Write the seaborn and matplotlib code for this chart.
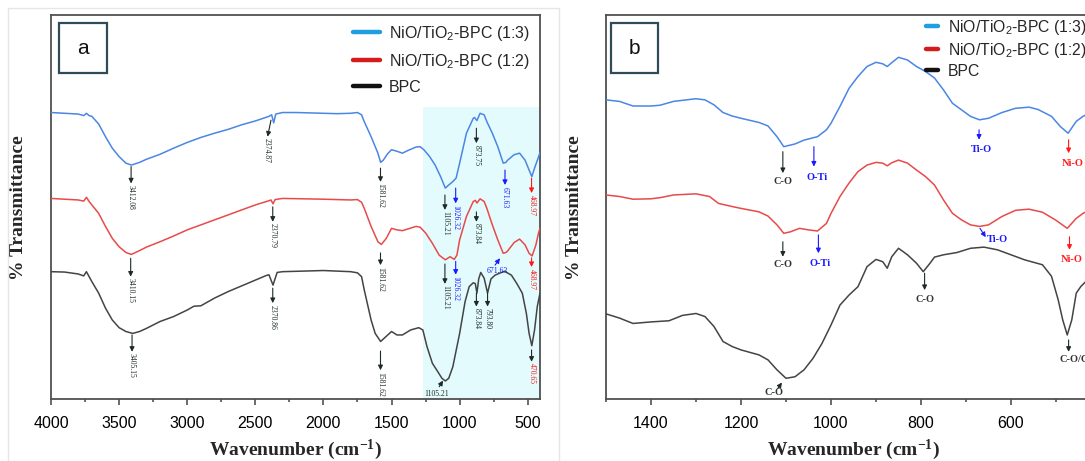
import pandas as pd
import seaborn as sns
import matplotlib
matplotlib.use('Agg')
import matplotlib.pyplot as plt
from matplotlib import ticker
from matplotlib.lines import Line2D
from matplotlib.patches import Rectangle

# ---------------- data (panel a, full range) ----------------
wn_a_13 = [4000, 3900, 3800, 3760, 3740, 3720, 3700, 3650, 3600, 3550, 3500, 3450, 3410, 3350, 3300,
           3200, 3100, 3000, 2900, 2800, 2700, 2600, 2500, 2400, 2380, 2365, 2350, 2300, 2200, 2100,
           2000, 1900, 1800, 1750, 1720, 1700, 1650, 1600, 1580, 1560, 1530, 1500, 1460, 1420, 1380,
           1320, 1290, 1260, 1220, 1180, 1140, 1105, 1080, 1050, 1026, 1000, 950, 900, 890, 873, 850,
           820, 800, 760, 720, 680, 660, 650, 600, 560, 520, 490, 470, 450, 420, 410]
t_a_13 = [74.7, 74.5, 74.3, 73.9, 74.5, 73.9, 73.7, 71.7, 68.4, 65.4, 63.2, 61.5, 61.0, 61.7, 62.5,
          63.8, 65.4, 66.9, 68.2, 69.3, 70.3, 71.5, 72.5, 73.7, 74.1, 72.0, 74.3, 74.7, 74.7, 74.6,
          74.5, 74.4, 74.5, 74.7, 74.1, 72.3, 68.4, 64.1, 61.7, 62.3, 63.9, 65.0, 64.6, 64.1, 64.8,
          65.7, 65.8, 64.9, 63.2, 61.0, 58.0, 55.0, 55.8, 56.7, 57.6, 61.5, 69.3, 73.2, 73.4, 72.6, 74.5,
          74.1, 72.3, 69.3, 65.8, 61.5, 61.7, 62.2, 63.7, 64.1, 62.3, 59.7, 58.0, 60.2, 63.2, 64.3]

wn_a_12 = [4000, 3900, 3800, 3760, 3740, 3720, 3700, 3650, 3600, 3550, 3500, 3450, 3410, 3350, 3300,
           3200, 3100, 3000, 2900, 2800, 2700, 2600, 2500, 2400, 2385, 2370, 2355, 2300, 2000, 1800,
           1750, 1720, 1700, 1650, 1600, 1575, 1540, 1500, 1460, 1420, 1320, 1290, 1250, 1200, 1150,
           1105, 1070, 1040, 1020, 1000, 950, 900, 885, 873, 850, 820, 800, 760, 720, 680, 660, 650,
           600, 560, 520, 490, 468, 440, 420, 410]
t_a_12 = [52.3, 52.1, 51.9, 51.6, 52.6, 51.5, 50.6, 48.4, 45.0, 41.9, 39.7, 38.2, 37.7, 38.7, 39.6,
          41.0, 42.5, 44.1, 45.4, 46.7, 48.0, 49.3, 50.6, 51.7, 51.9, 50.9, 52.0, 52.3, 52.1, 51.9,
          52.0, 51.3, 49.7, 45.0, 41.0, 40.3, 41.8, 44.5, 44.1, 43.9, 45.0, 44.8, 43.3, 40.6, 37.5,
          36.3, 37.1, 36.4, 37.5, 41.5, 47.6, 51.5, 51.8, 51.1, 52.2, 51.5, 49.7, 45.4, 41.5, 38.0, 38.2, 38.5,
          40.8, 41.7, 40.2, 38.0, 37.3, 40.2, 43.4, 44.5]

wn_a_bpc = [4000, 3900, 3800, 3760, 3740, 3720, 3700, 3650, 3600, 3550, 3500, 3450, 3400, 3350, 3300,
            3200, 3100, 3000, 2950, 2900, 2800, 2700, 2600, 2500, 2420, 2400, 2370, 2350, 2340, 2300,
            2000, 1800, 1750, 1720, 1700, 1650, 1620, 1580, 1540, 1500, 1460, 1420, 1360, 1300, 1270,
            1240, 1200, 1160, 1130, 1105, 1080, 1050, 1000, 960, 930, 900, 885, 873, 860, 845, 820,
            795, 770, 740, 700, 670, 620, 580, 540, 510, 490, 470, 450, 430, 410]
t_a_bpc = [33.2, 33.1, 32.6, 32.1, 33.2, 31.9, 30.6, 27.6, 23.7, 20.6, 18.6, 17.6, 17.1, 17.6, 18.4,
           20.2, 21.5, 23.2, 24.2, 24.3, 26.3, 28.0, 29.5, 31.0, 32.2, 32.4, 29.7, 31.9, 33.0, 33.2,
           33.5, 33.2, 32.9, 31.9, 28.4, 20.6, 17.1, 15.0, 16.3, 17.6, 16.7, 16.7, 18.0, 18.6, 18.0,
           13.7, 9.3, 7.1, 5.4, 4.7, 5.4, 8.4, 17.1, 25.4, 29.3, 30.3, 30.1, 27.6, 31.3, 33.0, 31.5,
           27.6, 31.3, 32.3, 32.9, 33.3, 32.3, 30.1, 27.6, 22.3, 17.1, 13.9, 18.0, 24.1, 27.6]

# ---------------- data (panel b, 1500-400 region) ----------------
wn_b_13 = [1500, 1470, 1440, 1400, 1380, 1350, 1300, 1280, 1260, 1240, 1220, 1200, 1160, 1140, 1120,
           1105, 1080, 1060, 1030, 1010, 1000, 980, 960, 940, 920, 900, 885, 875, 865, 850, 830, 810,
           790, 770, 750, 730, 710, 690, 670, 650, 620, 590, 560, 540, 510, 490, 473, 455, 440, 430]
t_b_13 = [78.0, 77.6, 76.4, 76.4, 76.6, 77.6, 78.3, 78.0, 76.7, 74.7, 73.8, 73.2, 72.1, 71.2, 68.4,
          65.8, 66.5, 67.5, 68.4, 70.2, 71.9, 76.3, 81.0, 84.1, 86.7, 87.8, 87.4, 86.7, 87.7, 89.1, 88.4, 86.7,
          85.4, 83.7, 80.6, 77.1, 75.4, 73.7, 72.8, 73.2, 74.7, 75.8, 76.1, 75.5, 73.7, 71.0, 69.3, 72.4, 73.7, 74.3]

wn_b_12 = [1500, 1470, 1440, 1400, 1380, 1350, 1300, 1270, 1250, 1220, 1200, 1160, 1140, 1120, 1105,
           1090, 1070, 1050, 1030, 1010, 1000, 980, 960, 940, 920, 900, 885, 875, 865, 850, 830, 810,
           790, 770, 750, 730, 710, 690, 670, 650, 620, 590, 560, 530, 500, 475, 455, 440, 430]
t_b_12 = [53.2, 52.8, 52.1, 52.2, 52.5, 53.2, 53.5, 52.8, 51.0, 50.2, 49.7, 48.8, 47.7, 45.4, 43.2,
          43.6, 44.5, 44.1, 43.8, 45.8, 48.4, 52.8, 56.3, 59.3, 61.0, 61.7, 61.5, 60.8, 61.6, 62.3, 61.5, 59.7,
          58.0, 55.8, 51.9, 48.4, 46.7, 45.4, 45.0, 45.4, 47.6, 49.2, 49.5, 48.7, 46.6, 44.5, 47.1, 48.4, 49.0]

wn_b_bpc = [1500, 1470, 1440, 1400, 1360, 1330, 1300, 1280, 1260, 1240, 1220, 1200, 1160, 1140, 1120,
            1100, 1080, 1060, 1040, 1020, 1000, 980, 960, 940, 920, 900, 885, 875, 865, 850, 830, 810,
            795, 780, 770, 750, 720, 690, 660, 630, 600, 570, 530, 510, 495, 485, 475, 465, 455, 445, 435]
t_b_bpc = [22.2, 21.1, 19.7, 20.1, 20.4, 21.8, 22.3, 21.5, 18.9, 15.0, 13.7, 12.8, 11.5, 10.2, 7.6,
           5.4, 5.8, 7.6, 10.6, 14.5, 19.3, 24.5, 27.1, 29.3, 34.5, 36.4, 35.8, 34.1, 37.1, 39.3, 37.6, 35.4,
           33.2, 35.4, 37.0, 37.6, 38.2, 39.3, 39.6, 38.9, 37.6, 36.3, 35.0, 32.0, 25.8, 20.6, 16.7, 20.6, 27.6, 29.3, 30.5]

samples = ['NiO/TiO2-BPC (1:3)', 'NiO/TiO2-BPC (1:2)', 'BPC']
legend_labels = [r'NiO/TiO$\mathregular{_2}$-BPC (1:3)', r'NiO/TiO$\mathregular{_2}$-BPC (1:2)', 'BPC']
curve_colors = {samples[0]: '#4a86e4', samples[1]: '#e84a4a', samples[2]: '#444444'}
legend_colors = ['#1f9fe0', '#d41c1c', '#111111']

K, B, R = '#1e2a28', '#1a1aff', '#ff1a1a'

# peak labels panel a: label, wavenumber, arrow tail, arrow head, arrow colour, text colour
peaks_a = [('3412.08', 3412, 60.6, 56.2, K, K), ('1581.62', 1581, 60.2, 56.6, K, K),
           ('1105.21', 1108, 53.2, 49.3, K, K), ('1026.32', 1029, 55.0, 51.0, B, B),
           ('873.75', 877, 70.6, 66.7, K, K), ('671.63', 667, 59.7, 55.8, B, B),
           ('468.97', 472, 57.6, 53.7, R, R),
           ('3410.15', 3415, 36.7, 31.9, K, K), ('2370.79', 2372, 50.1, 46.2, K, K),
           ('1581.62', 1581, 38.1, 34.9, K, K), ('1105.21', 1108, 35.2, 30.0, K, K),
           ('1026.32', 1029, 35.9, 32.4, B, B), ('873.84', 877, 48.8, 46.2, K, K),
           ('468.97', 472, 36.8, 34.4, R, R),
           ('3405.15', 3405, 16.7, 12.3, K, K), ('2370.86', 2372, 28.9, 25.0, K, K),
           ('1581.62', 1581, 12.5, 7.5, K, K), ('873.84', 877, 27.6, 24.1, K, K),
           ('793.80', 795, 27.6, 24.1, K, K), ('470.65', 472, 12.8, 9.7, K, R)]

# panel b labels: label, tail, head, text position, arrow colour, text colour
peaks_b = [('C-O', (1107, 64.5), (1107, 58.9), (1107, 56.7), K, '#333333'),
           ('O-Ti', (1038, 65.8), (1038, 60.6), (1032, 57.7), B, B),
           ('Ti-O', (671, 70.2), (671, 67.6), (665, 65.0), B, B),
           ('Ni-O', (472, 67.6), (472, 64.1), (464, 61.5), R, R),
           ('C-O', (1107, 41.0), (1107, 37.1), (1107, 35.0), K, '#333333'),
           ('O-Ti', (1028, 42.8), (1028, 38.0), (1025, 35.4), B, B),
           ('Ti-O', (669, 44.5), (656, 42.2), (630, 41.5), B, B),
           ('Ni-O', (470, 42.3), (470, 38.9), (466, 36.4), R, R),
           ('C-O', (1118, 2.8), (1109, 4.3), (1126, 1.65), K, '#333333'),
           ('C-O', (792, 32.8), (792, 28.4), (790, 26.0), K, '#333333'),
           ('C-O/C=O', (472, 15.4), (472, 12.3), (444, 10.2), K, '#333333')]


def make_df(wns, ts):
    return pd.concat([pd.DataFrame({'wn': w, 'T': t, 'sample': s})
                      for w, t, s in zip(wns, ts, samples)], ignore_index=True)


df_a = make_df([wn_a_13, wn_a_12, wn_a_bpc], [t_a_13, t_a_12, t_a_bpc])
df_b = make_df([wn_b_13, wn_b_12, wn_b_bpc], [t_b_13, t_b_12, t_b_bpc])

sns.set_style('white')
plt.rcParams['font.family'] = ['Liberation Sans', 'DejaVu Sans']

fig = plt.figure(figsize=(10.85, 4.61), dpi=100)
ax_a = fig.add_axes([51 / 1085, 1 - 399 / 461, 489 / 1085, 383.5 / 461])
ax_b = fig.add_axes([606 / 1085, 1 - 399 / 461, 495 / 1085, 383.5 / 461])

# faint frame around panel a picture
fig.patches.append(Rectangle((8 / 1085, -0.1), 551 / 1085, 1.1 - 8 / 461, transform=fig.transFigure,
                             fill=False, ec='#e6e6e6', lw=1))

ax_a.axvspan(1270, 410, ymin=0, ymax=0.761, color='#e3fbfc', zorder=0, lw=0)

for ax, df, xlim, major, minor, letter, lx in [
        (ax_a, df_a, (4000, 410), 500, 250, 'a', (0.0164, 0.0982)),
        (ax_b, df_b, (1500, 400), 200, 100, 'b', (0.0095, 0.095))]:
    sns.lineplot(data=df, x='wn', y='T', hue='sample', palette=curve_colors, estimator=None,
                 lw=1.1, legend=False, ax=ax, zorder=3)
    ax.set_xlim(*xlim)
    ax.set_ylim(0, 100)
    ax.set_yticks([])
    ax.xaxis.set_major_locator(ticker.MultipleLocator(major))
    ax.xaxis.set_minor_locator(ticker.MultipleLocator(minor))
    ax.tick_params(axis='x', which='both', bottom=True, direction='out', colors='#444444',
                   labelcolor='black', width=1.1)
    ax.tick_params(axis='x', which='major', length=4, labelsize=11.5, pad=8)
    ax.tick_params(axis='x', which='minor', length=2.5)
    for sp in ax.spines.values():
        sp.set_visible(True)
        sp.set_color('#505050')
        sp.set_linewidth(1.3)
    ax.set_ylabel('% Transmittance', fontfamily='Liberation Serif', fontweight='bold', fontsize=14)
    ax.set_xlabel(r'Wavenumber (cm$\mathregular{^{-1}}$)', fontfamily='Liberation Serif',
                  fontweight='bold', fontsize=14)
    ax.xaxis.set_label_coords(0.5, -0.102)
    ax.add_patch(Rectangle((lx[0], 0.850), lx[1], 0.130, transform=ax.transAxes, fill=False,
                           ec='#2f4b57', lw=1.6, zorder=5))
    ax.text(lx[0] + lx[1] / 2, 0.915, letter, transform=ax.transAxes, ha='center', va='center',
            fontsize=15, color='#111111')

ax_a.yaxis.set_label_coords(-0.049, 0.5)
ax_b.yaxis.set_label_coords(-0.0465, 0.5)

handles = [Line2D([], [], color=c, lw=3.2) for c in legend_colors]
ax_a.legend(handles, legend_labels, loc='upper left', bbox_to_anchor=(0.6176, 0.978), frameon=False,
            fontsize=11.5, handlelength=1.7, handletextpad=0.56, labelspacing=0.55,
            borderpad=0, borderaxespad=0)
ax_b.legend(handles, legend_labels, loc='upper left', bbox_to_anchor=(0.6465, 0.9935), frameon=False,
            fontsize=11.3, handlelength=0.75, handletextpad=0.63, labelspacing=0.25,
            borderpad=0, borderaxespad=0)

arrow_kw = dict(arrowstyle='-|>', lw=0.8, mutation_scale=7, shrinkA=0, shrinkB=0)
small = dict(fontfamily='Liberation Serif', fontsize=5.5)

for lab, w, y0, y1, ac, tc in peaks_a:
    ax_a.annotate('', xy=(w, y1), xytext=(w, y0), arrowprops=dict(color=ac, **arrow_kw), zorder=4)
    ax_a.text(w, y1 - 0.4, lab, rotation=270, ha='center', va='top', color=tc, **small)

# slanted labels in panel a
ax_a.annotate('', xy=(2410, 68.4), xytext=(2385, 72.7), arrowprops=dict(color=K, **arrow_kw))
ax_a.text(2416, 68.0, '2374.87', rotation=270, ha='center', va='top', color=K, **small)
ax_a.annotate('', xy=(704, 36.7), xytext=(740, 34.9), arrowprops=dict(color=B, **arrow_kw))
ax_a.text(726, 33.4, '671.63', ha='center', va='center', color=B, **small)
ax_a.annotate('', xy=(1122, 4.8), xytext=(1150, 3.2), arrowprops=dict(color=K, **arrow_kw))
ax_a.text(1172, 1.4, '1105.21', ha='center', va='center', color=K, **small)

for lab, tail, head, pos, ac, tc in peaks_b:
    ax_b.annotate('', xy=head, xytext=tail, arrowprops=dict(color=ac, **arrow_kw), zorder=4)
    ax_b.text(pos[0], pos[1], lab, ha='center', va='center', color=tc, fontfamily='Liberation Serif',
              fontweight='bold', fontsize=7.5)

fig.savefig('out.png', dpi=100, facecolor='white')
